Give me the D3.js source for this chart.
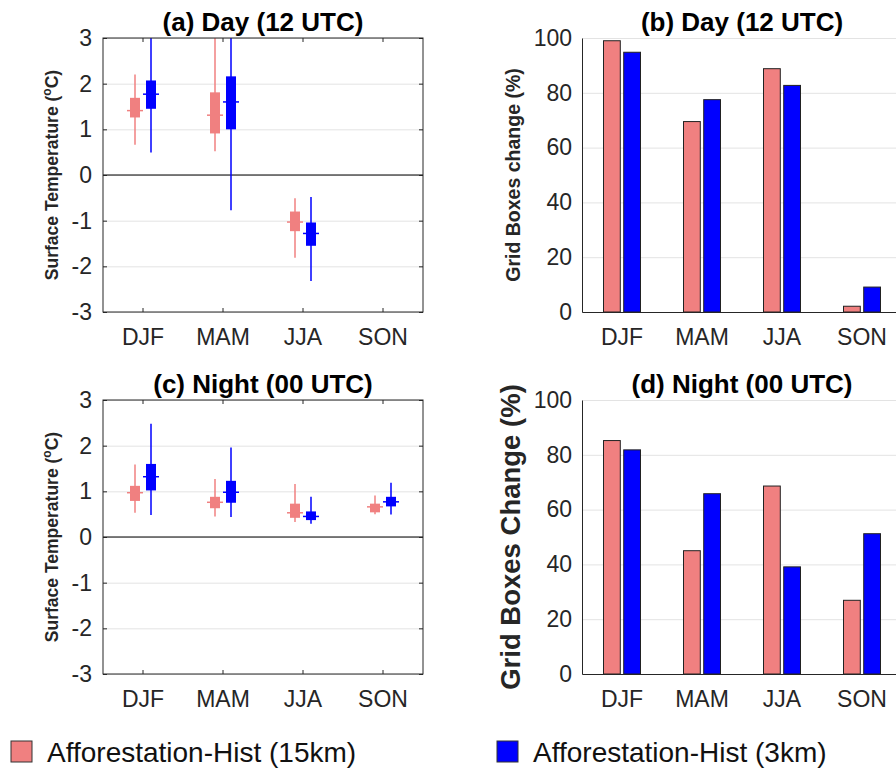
<!DOCTYPE html>
<html>
<head>
<meta charset="utf-8">
<script src="https://cdn.jsdelivr.net/npm/d3@7"></script>
<style>
body { margin:0; background:#fff; }
svg { font-family: Helvetica, Arial, "Liberation Sans", sans-serif; }
.tick text { fill:#262626; }
</style>
</head>
<body>
<script>
var seasons = ['DJF','MAM','JJA','SON'];
var series = ['Afforestation-Hist (15km)', 'Afforestation-Hist (3km)'];
var colors = ['#f08080', '#0000ff'];

// box stats per season: [whisker low, q1, median, q3, whisker high]
var dayBox15 = [[0.66,1.26,1.41,1.69,2.20], [0.52,0.91,1.31,1.81,3.4], [-1.81,-1.23,-1.03,-0.80,-0.51], null];
var dayBox3  = [[0.49,1.45,1.77,2.07,3.4], [-0.77,1.00,1.60,2.16,3.4], [-2.32,-1.55,-1.28,-1.04,-0.48], null];
var nightBox15 = [[0.53,0.79,0.97,1.12,1.59], [0.45,0.63,0.76,0.88,1.27], [0.33,0.42,0.53,0.73,1.16], [0.50,0.54,0.66,0.73,0.91]];
var nightBox3  = [[0.48,1.02,1.32,1.60,2.48], [0.44,0.75,0.98,1.23,1.96], [0.29,0.37,0.45,0.56,0.88], [0.49,0.67,0.77,0.88,1.19]];

// percentage of grid boxes with change
var dayPct15 = [99.0, 69.5, 88.8, 2.1];
var dayPct3  = [94.8, 77.5, 82.7, 9.1];
var nightPct15 = [85.2, 45.0, 68.6, 26.9];
var nightPct3  = [81.8, 65.8, 39.1, 51.2];

var tempTicks = [-3,-2,-1,0,1,2,3];
var pctTicks = [0,20,40,60,80,100];

var width = 320;
var height = 274;

var svg = d3.select("body").append("svg").attr("width", 896).attr("height", 780);

var defs = svg.append("defs");

var x = d3.scaleBand().domain(seasons).range([0, width]);

function plain(d) { return String(d); }

function boxPanel(left, top, id, title, box15, box3) {
  var y = d3.scaleLinear().domain([-3, 3]).range([height, 0]);
  var xs = d3.scalePoint().domain(series).range([-8, 8]);
  var g = svg.append("g").attr("transform","translate("+left+","+top+")");

  defs.append("clipPath").attr("id", id).append("rect").attr("width", width).attr("height", height);

  // grid
  g.append("g")
    .call(d3.axisLeft(y).tickValues(tempTicks).tickSize(-width).tickFormat(""))
    .call(function(a){ a.select(".domain").remove(); a.selectAll("line").attr("stroke","#e3e3e3"); });

  g.append("line").attr("x1",0).attr("x2",width).attr("y1",y(0)).attr("y2",y(0))
    .attr("stroke","#000").attr("stroke-width",1.2);

  var plot = g.append("g").attr("clip-path","url(#"+id+")");
  [box15, box3].forEach(function(data, si) {
    seasons.forEach(function(s, i) {
      var d = data[i];
      if (!d) return;
      var cx = x(s) + x.bandwidth()/2 + xs(series[si]);
      plot.append("line").attr("x1",cx).attr("x2",cx).attr("y1",y(d[0])).attr("y2",y(d[4]))
        .attr("stroke",colors[si]).attr("stroke-width",1.5);
      plot.append("rect").attr("x",cx-5).attr("width",10)
        .attr("y",y(d[3])).attr("height",y(d[1])-y(d[3]))
        .attr("fill",colors[si]);
      plot.append("line").attr("x1",cx-8).attr("x2",cx+8).attr("y1",y(d[2])).attr("y2",y(d[2]))
        .attr("stroke",colors[si]).attr("stroke-width",1.5);
    });
  });

  // frame and inward ticks
  g.append("rect").attr("width",width).attr("height",height).attr("fill","none")
    .attr("stroke","#262626").attr("stroke-width",1);
  g.append("g").call(d3.axisLeft(y).tickValues(tempTicks).tickSize(-4).tickPadding(11).tickFormat(plain))
    .call(function(a){ a.select(".domain").remove(); a.selectAll("text").attr("font-size",23); a.selectAll("line").attr("stroke","#262626"); });
  g.append("g").attr("transform","translate("+width+",0)")
    .call(d3.axisRight(y).tickValues(tempTicks).tickSize(-4).tickFormat(""))
    .call(function(a){ a.select(".domain").remove(); a.selectAll("line").attr("stroke","#262626"); });
  g.append("g").attr("transform","translate(0,"+height+")")
    .call(d3.axisBottom(x).tickSize(-4).tickPadding(17))
    .call(function(a){ a.select(".domain").remove(); a.selectAll("text").attr("font-size",23); a.selectAll("line").attr("stroke","#262626"); });
  g.append("g")
    .call(d3.axisTop(x).tickSize(-4).tickFormat(""))
    .call(function(a){ a.select(".domain").remove(); a.selectAll("line").attr("stroke","#262626"); });

  g.append("text").attr("x",width/2).attr("y",-7).attr("text-anchor","middle")
    .attr("font-size",26).attr("font-weight","bold").text(title);

  var lab = g.append("text").attr("transform","translate(-45,"+(height/2)+") rotate(-90)")
    .attr("text-anchor","middle").attr("font-size",17.5).attr("font-weight","bold").attr("fill","#262626");
  lab.append("tspan").text("Surface Temperature (");
  lab.append("tspan").attr("baseline-shift","super").attr("font-size",12).text("o");
  lab.append("tspan").text("C)");
}

function barPanel(left, top, title, ylabel, labelSize, p15, p3) {
  var y = d3.scaleLinear().domain([0, 100]).range([height, 0]);
  var xs = d3.scaleBand().domain(series).range([-19, 19]).paddingInner(0.12);
  var g = svg.append("g").attr("transform","translate("+left+","+top+")");

  g.append("g")
    .call(d3.axisLeft(y).tickValues(pctTicks).tickSize(-width).tickFormat(""))
    .call(function(a){ a.select(".domain").remove(); a.selectAll("line").attr("stroke","#e3e3e3"); });

  [p15, p3].forEach(function(data, si) {
    g.selectAll(".bar"+si).data(data).enter().append("rect")
      .attr("x", function(d,i){ return x(seasons[i]) + x.bandwidth()/2 + xs(series[si]) + 0.5; })
      .attr("width", xs.bandwidth() - 1)
      .attr("y", function(d){ return y(d); })
      .attr("height", function(d){ return height - y(d); })
      .attr("fill", colors[si]).attr("stroke","#222").attr("stroke-width",1);
  });

  g.append("g").call(d3.axisLeft(y).tickValues(pctTicks).tickSize(0).tickPadding(10).tickFormat(plain))
    .call(function(a){ a.select(".domain").attr("stroke","#262626"); a.selectAll("text").attr("font-size",23); });
  g.append("g").attr("transform","translate(0,"+height+")")
    .call(d3.axisBottom(x).tickSize(0).tickPadding(17))
    .call(function(a){ a.select(".domain").attr("stroke","#262626"); a.selectAll("text").attr("font-size",23); });

  g.append("text").attr("x",width/2).attr("y",-7).attr("text-anchor","middle")
    .attr("font-size",26).attr("font-weight","bold").text(title);

  g.append("text").attr("transform","translate(-62,"+(height/2)+") rotate(-90)")
    .attr("text-anchor","middle").attr("font-size",labelSize).attr("font-weight","bold").attr("fill","#262626")
    .text(ylabel);
}

boxPanel(103, 38, "clipA", "(a) Day (12 UTC)", dayBox15, dayBox3);
barPanel(582, 38, "(b) Day (12 UTC)", "Grid Boxes change (%)", 19.5, dayPct15, dayPct3);
boxPanel(103, 400, "clipC", "(c) Night (00 UTC)", nightBox15, nightBox3);
barPanel(582, 400, "(d) Night (00 UTC)", "Grid Boxes Change (%)", 27.5, nightPct15, nightPct3);

// legend
var legendX = [11, 497];
var legend = svg.selectAll(".legend").data(series).enter().append("g")
  .attr("transform", function(d,i){ return "translate("+legendX[i]+",741)"; });
legend.append("rect").attr("width",21).attr("height",21)
  .attr("fill", function(d,i){ return colors[i]; }).attr("stroke","#333").attr("stroke-width",1);
legend.append("text").attr("x",36).attr("y",21).attr("font-size",28).attr("fill","#111")
  .text(function(d){ return d; });
</script>
</body>
</html>
